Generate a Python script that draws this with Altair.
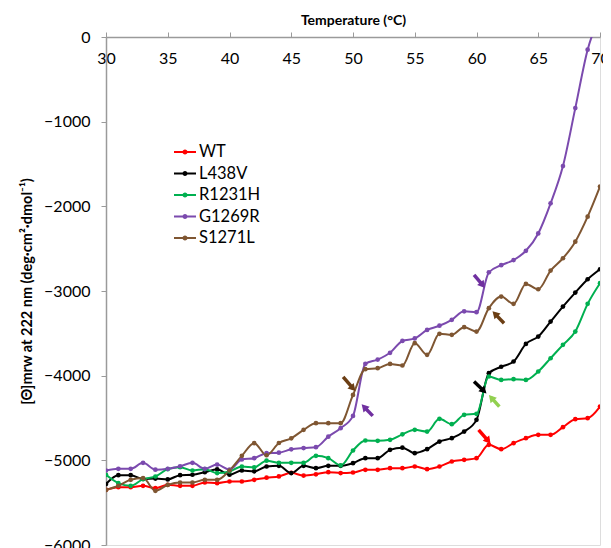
import altair as alt
import pandas as pd

temps = list(range(30, 71))

wt = [-5348, -5317, -5317, -5301, -5329, -5289, -5301, -5301, -5262, -5270,
      -5250, -5250, -5230, -5205, -5190, -5148, -5180, -5165, -5140, -5150,
      -5144, -5112, -5112, -5093, -5093, -5073, -5104, -5073, -5014, -4994,
      -4974, -4817, -4868, -4797, -4738, -4699, -4699, -4608, -4514, -4502, -4365]
l438v = [-5280, -5175, -5175, -5220, -5215, -5225, -5175, -5170, -5140, -5105,
         -5170, -5120, -5130, -5073, -5065, -5151, -5065, -5093, -5065, -5065,
         -5033, -4974, -4974, -4876, -4850, -4915, -4868, -4778, -4738, -4660,
         -4522, -3971, -3895, -3833, -3625, -3538, -3361, -3184, -3019, -2861, -2743]
r1231h = [-5171, -5270, -5301, -5222, -5191, -5104, -5081, -5120, -5104, -5151,
          -5132, -5073, -5083, -5004, -5030, -5030, -5030, -4947, -4974, -5060,
          -4884, -4766, -4770, -4758, -4693, -4640, -4660, -4510, -4573, -4463,
          -4451, -4010, -4050, -4041, -4050, -3951, -3794, -3636, -3479, -3152, -2908]
g1269r = [-5120, -5100, -5100, -5030, -5110, -5100, -5070, -5030, -5100, -5050,
          -5110, -4990, -4975, -4915, -4910, -4870, -4855, -4845, -4720, -4620,
          -4475, -3860, -3810, -3730, -3590, -3560, -3460, -3410, -3340, -3240,
          -3250, -2780, -2695, -2635, -2525, -2320, -1965, -1525, -840, -150, 250]
s1271l = [-5350, -5300, -5230, -5210, -5360, -5290, -5262, -5262, -5230, -5230,
          -5120, -4947, -4797, -4940, -4795, -4740, -4640, -4561, -4561, -4561,
          -4227, -3923, -3912, -3861, -3880, -3616, -3754, -3506, -3518, -3427,
          -3479, -3203, -3066, -3152, -2916, -2979, -2759, -2613, -2417, -2122, -1767]

series_names = ["WT", "L438V", "R1231H", "G1269R", "S1271L"]
series_values = [wt, l438v, r1231h, g1269r, s1271l]
series_colors = ["#FF0000", "#000000", "#00B050", "#7B4AAE", "#7F5632"]

# annotation arrows: tail (t1, v1) -> head (t2, v2)
arrow_t1 = [49.2, 51.6, 59.8, 62.23, 59.8, 61.85, 60.17]
arrow_v1 = [-4014, -4475, -2810, -3380, -4070, -4365, -4640]
arrow_t2 = [50.0, 50.9, 60.5, 61.5, 60.6, 61.2, 60.95]
arrow_v2 = [-4150, -4370, -2930, -3270, -4180, -4260, -4770]
arrow_colors = ["#6B3E14", "#7030A0", "#7030A0", "#6B3E14", "#000000", "#92D050", "#FF0000"]
arrow_angles = [138, 317, 141, 316, 135, 319, 141]

rows = []
for name, vals in zip(series_names, series_values):
    for t, v in zip(temps, vals):
        rows.append({"Temperature": t, "Theta": v, "Series": name})
df = pd.DataFrame(rows)

arrows = pd.DataFrame({
    "t1": arrow_t1, "v1": arrow_v1, "t2": arrow_t2, "v2": arrow_v2,
    "c": arrow_colors, "a": arrow_angles,
})

FONT = "Lato"

x_scale = alt.Scale(domain=[30, 70], nice=False, zero=False)
y_scale = alt.Scale(domain=[-6000, 0], nice=False)
color_scale = alt.Scale(domain=series_names, range=series_colors)

legend_symbol = "M-1,0L1,0M0.14,0A0.14,0.14,0,1,1,-0.14,0A0.14,0.14,0,1,1,0.14,0"

x_enc = alt.X("Temperature:Q", scale=x_scale, axis=alt.Axis(
    orient="top", values=list(range(30, 71, 5)), title="Temperature (°C)",
    tickSize=5, labelPadding=-34, labelFontSize=16, titleFontSize=14,
    titleFontWeight="bold", titleY=-10, grid=False, domainColor="#9a9a9a",
    tickColor="#9a9a9a", domainWidth=1.5, labelFlush=False))
y_enc = alt.Y("Theta:Q", scale=y_scale, axis=alt.Axis(
    values=list(range(-6000, 1, 1000)), format="d",
    title="[Θ]mrw at 222 nm (deg·cm²·dmol⁻¹)",
    tickSize=5, labelPadding=11, labelFontSize=16, titleFontSize=14.5,
    titleFontWeight="bold", grid=False, domainColor="#9a9a9a",
    tickColor="#9a9a9a", domainWidth=1.5, titlePadding=9))

lines = alt.Chart(df).mark_line(interpolate="monotone", strokeWidth=2, clip=True).encode(
    x=x_enc, y=y_enc,
    color=alt.Color("Series:N", scale=color_scale, legend=alt.Legend(
        title=None, orient="none", legendX=67, legendY=103,
        labelFontSize=16.5, labelFont=FONT, labelColor="black",
        symbolType=legend_symbol, symbolSize=484, symbolStrokeWidth=2,
        rowPadding=0.5, labelOffset=2)),
    detail="Series:N",
)

points = alt.Chart(df).mark_point(filled=True, size=22, opacity=1, clip=True).encode(
    x="Temperature:Q", y="Theta:Q",
    color=alt.Color("Series:N", scale=color_scale, legend=None),
)

arrow_shaft = alt.Chart(arrows).mark_rule(strokeWidth=3.5).encode(
    x="t1:Q", y="v1:Q", x2="t2:Q", y2="v2:Q",
    color=alt.Color("c:N", scale=None),
)
arrow_head = alt.Chart(arrows).mark_point(shape="triangle-up", filled=True, size=70, opacity=1).encode(
    x="t2:Q", y="v2:Q",
    color=alt.Color("c:N", scale=None),
    angle=alt.Angle("a:Q", scale=None),
)

chart = alt.layer(lines, points, arrow_shaft, arrow_head).properties(
    width=494, height=508,
    autosize=alt.AutoSizeParams(type="none"),
    padding={"left": 98, "top": 29, "right": 3, "bottom": 3},
).configure_view(stroke="#9a9a9a", strokeWidth=1.5).configure(
    font=FONT,
).configure_axis(labelFont=FONT, titleFont=FONT, labelColor="black", titleColor="black")

chart.save("out.html", embed_options={"renderer": "svg", "actions": False})
